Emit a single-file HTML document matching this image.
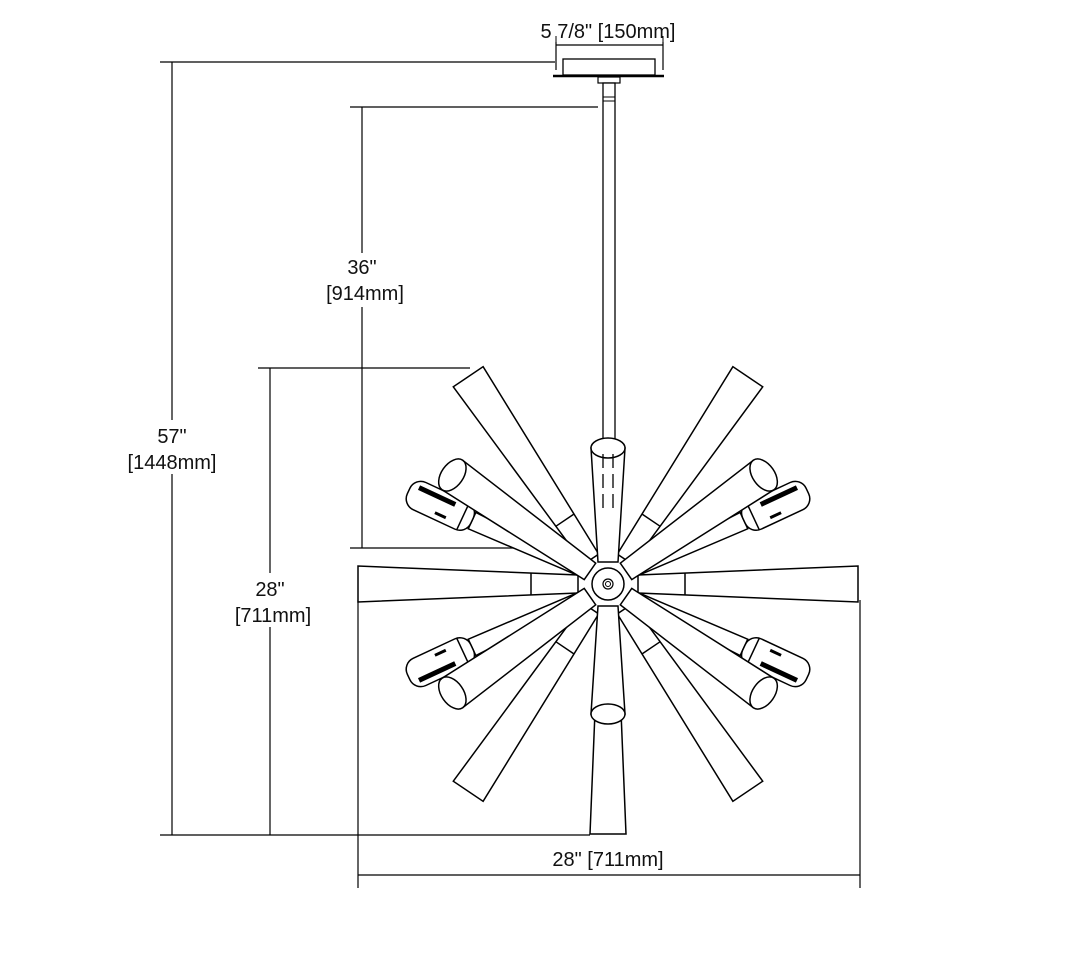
<!DOCTYPE html>
<html><head><style>
html,body{margin:0;padding:0;background:#fff}
svg{display:block}
text{font-family:"Liberation Sans",Arial,sans-serif;font-size:20px;fill:#111}
</style></head><body>
<svg width="1080" height="976" viewBox="0 0 1080 976" xmlns="http://www.w3.org/2000/svg">
<defs>
<g id="long">
  <polygon points="30,-9 250,-18 250,18 30,9" fill="#fff" stroke="#000" stroke-width="1.5"/>
  <line x1="77" y1="-11" x2="77" y2="11" stroke="#000" stroke-width="1.5"/>
</g>
<g id="short">
  <polygon points="22,-10 190,-18 190,18 22,10" fill="#fff" stroke="#000" stroke-width="1.5"/>
  <ellipse cx="190" cy="0" rx="11" ry="18" fill="#fff" stroke="#000" stroke-width="1.5"/>
</g>
<g id="sock">
  <polygon points="30,-5 150,-9 150,9 30,5" fill="#fff" stroke="#000" stroke-width="1.5"/>
  <rect x="150" y="-15" width="70" height="30" rx="12" fill="#fff" stroke="#000" stroke-width="1.5"/>
  <line x1="160" y1="-15" x2="160" y2="15" stroke="#000" stroke-width="1.5"/>
  <rect x="172" y="5" width="40" height="5" fill="#000"/>
  <rect x="175" y="-10" width="12" height="3" fill="#000"/>
</g>
</defs>
<g fill="none" stroke="#000" stroke-width="1.2">
  <line x1="556" y1="45" x2="663" y2="45"/>
  <line x1="556" y1="36" x2="556" y2="70"/>
  <line x1="663" y1="36" x2="663" y2="70"/>
  <line x1="160" y1="62" x2="555" y2="62"/>
  <line x1="172" y1="62" x2="172" y2="835"/>
  <line x1="160" y1="835" x2="590" y2="835"/>
  <line x1="350" y1="107" x2="598" y2="107"/>
  <line x1="362" y1="107" x2="362" y2="548"/>
  <line x1="350" y1="548" x2="595" y2="548"/>
  <line x1="258" y1="368" x2="470" y2="368"/>
  <line x1="270" y1="368" x2="270" y2="835"/>
  <line x1="358" y1="875" x2="860" y2="875"/>
  <line x1="358" y1="600" x2="358" y2="888"/>
  <line x1="860" y1="600" x2="860" y2="888"/>
</g>
<rect x="563" y="59" width="92" height="16" fill="#fff" stroke="#000" stroke-width="1.3"/>
<line x1="553" y1="76" x2="664" y2="76" stroke="#000" stroke-width="2.5"/>
<rect x="598" y="77" width="22" height="6" fill="#fff" stroke="#000" stroke-width="1.2"/>
<rect x="603" y="83" width="12" height="360" fill="#fff" stroke="#000" stroke-width="1.3"/>
<line x1="603" y1="97" x2="615" y2="97" stroke="#000"/>
<line x1="603" y1="101" x2="615" y2="101" stroke="#000"/>
<g transform="translate(608,584)">
  <use href="#long" transform="rotate(180)"/>
  <use href="#long" transform="rotate(0)"/>
  <use href="#long" transform="rotate(90)"/>
  <use href="#long" transform="rotate(-124)"/>
  <use href="#long" transform="rotate(-56)"/>
  <use href="#long" transform="rotate(124)"/>
  <use href="#long" transform="rotate(56)"/>
  <use href="#sock" transform="rotate(205)"/>
  <use href="#sock" transform="rotate(-25) scale(1,-1)"/>
  <use href="#sock" transform="rotate(155) scale(1,-1)"/>
  <use href="#sock" transform="rotate(25)"/>
  <use href="#short" transform="rotate(215)"/>
  <use href="#short" transform="rotate(-35)"/>
  <use href="#short" transform="rotate(145)"/>
  <use href="#short" transform="rotate(35)"/>
  <g transform="rotate(-90)"><polygon points="22,-10 136,-17 136,17 22,10" fill="#fff" stroke="#000" stroke-width="1.5"/><ellipse cx="136" cy="0" rx="10" ry="17" fill="#fff" stroke="#000" stroke-width="1.5"/></g>
  <g transform="rotate(90)"><polygon points="22,-10 130,-17 130,17 22,10" fill="#fff" stroke="#000" stroke-width="1.5"/><ellipse cx="130" cy="0" rx="10" ry="17" fill="#fff" stroke="#000" stroke-width="1.5"/></g>
  <line x1="-5" y1="-130" x2="-5" y2="-70" stroke="#000" stroke-width="1.3" stroke-dasharray="14,6"/>
  <line x1="5" y1="-130" x2="5" y2="-70" stroke="#000" stroke-width="1.3" stroke-dasharray="14,6"/>
  <circle r="16" fill="#fff" stroke="#000" stroke-width="1.5"/>
  <circle r="5" fill="#fff" stroke="#000" stroke-width="1.2"/>
  <circle r="2.5" fill="#fff" stroke="#000" stroke-width="1"/>
</g>
<rect x="533" y="16" width="150" height="26" fill="#fff"/>
<text x="608" y="38" text-anchor="middle">5 7/8" [150mm]</text>
<line x1="556" y1="36" x2="556" y2="45" stroke="#000"/>
<line x1="663" y1="36" x2="663" y2="45" stroke="#000"/>
<rect x="118" y="420" width="108" height="54" fill="#fff"/>
<text x="172" y="443" text-anchor="middle">57"</text>
<text x="172" y="469" text-anchor="middle">[1448mm]</text>
<rect x="318" y="253" width="94" height="54" fill="#fff"/>
<text x="362" y="274" text-anchor="middle">36"</text>
<text x="365" y="300" text-anchor="middle">[914mm]</text>
<rect x="226" y="573" width="96" height="54" fill="#fff"/>
<text x="270" y="596" text-anchor="middle">28"</text>
<text x="273" y="622" text-anchor="middle">[711mm]</text>
<text x="608" y="866" text-anchor="middle">28" [711mm]</text>
</svg>
</body></html>
